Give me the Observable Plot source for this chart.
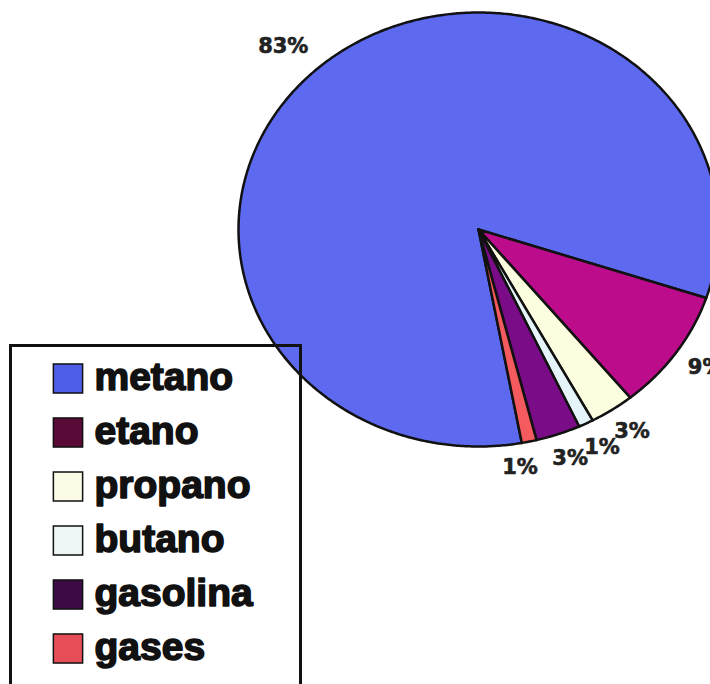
<!DOCTYPE html>
<html>
<head>
<meta charset="utf-8">
<script src="https://cdn.jsdelivr.net/npm/d3@7"></script>
<script src="https://cdn.jsdelivr.net/npm/@observablehq/plot@0.6"></script>
<style>
  html, body { margin: 0; padding: 0; background: white; overflow: hidden; }
  #wrap { position: relative; width: 710px; height: 684px; overflow: hidden; }
  #legend { position: absolute; left: 0; top: 330px; }
  #pie { position: absolute; left: 0; top: 0; }
</style>
</head>
<body>
<div id="wrap"><div id="pie"></div><div id="legend"></div></div>
<script>
// ---- data ----
const categories = ["metano", "etano", "propano", "butano", "gasolina", "gases"];
const values = [83, 9, 3, 1, 3, 1];
const labels = ["83%", "9%", "3%", "1%", "3%", "1%"];
const sliceColors = ["#5d6af0", "#bd0c8b", "#fdfde0", "#e4f4f8", "#7a0c88", "#f45a5e"];
const legendColors = ["#4f5ee6", "#5a0a36", "#fbfbe6", "#eef6f6", "#3c0a44", "#e84e58"];
const startAngleDeg = 169.6; // first slice start, clockwise from 12 o'clock

// ---- build slice geometry with d3.pie ----
const pieGen = d3.pie().sort(null)
  .startAngle(startAngleDeg * Math.PI / 180)
  .endAngle(startAngleDeg * Math.PI / 180 + 2 * Math.PI);
const arcs = pieGen(values);

const slicePts = [];
const labelRows = [];
arcs.forEach((a, i) => {
  const name = categories[i];
  const color = sliceColors[i];
  slicePts.push({name, color, x: 0, y: 0});
  const steps = Math.max(4, Math.ceil((a.endAngle - a.startAngle) / (Math.PI / 360)));
  for (let k = 0; k <= steps; k++) {
    const t = a.startAngle + (a.endAngle - a.startAngle) * k / steps;
    slicePts.push({name, color, x: Math.sin(t), y: Math.cos(t)});
  }
  const mid = (a.startAngle + a.endAngle) / 2;
  const sx = Math.sin(mid), cy = Math.cos(mid);
  // labels sit just outside the rim (crowded bottom label nudged inward, big left label further out)
  const fx = sx < -0.3 ? 1.24 : sx < 0.25 ? 0.82 : 1.15;
  labelRows.push({label: labels[i], x: sx * fx, y: cy * 1.12});
});

const pie = Plot.plot({
  width: 710,
  height: 684,
  margin: 0,
  x: {domain: [-1, 1], range: [238, 718], axis: null},
  y: {domain: [-1, 1], range: [446, 12], axis: null},
  color: {type: "identity"},
  marks: [
    Plot.line(slicePts, {x: "x", y: "y", z: "name", fill: "color", stroke: "#111", strokeWidth: 2.5, curve: "linear-closed", strokeLinejoin: "round"}),
    Plot.text(labelRows, {x: "x", y: "y", text: "label", fontSize: 21, fontWeight: "bold", fontFamily: "DejaVu Sans", fill: "#222", stroke: "#222", strokeWidth: 0.6})
  ]
});
document.getElementById("pie").appendChild(pie);

// ---- legend ----
const legendRows = categories.map((c, i) => ({name: c, color: legendColors[i]}));
const legend = Plot.plot({
  width: 310,
  height: 359,
  marginLeft: 10,
  marginRight: 10,
  marginTop: 15,
  marginBottom: 0,
  style: {background: "transparent"},
  y: {type: "point", domain: categories, range: [48, 322], padding: 0, axis: null},
  color: {type: "identity"},
  marks: [
    Plot.frame({stroke: "#111", strokeWidth: 3}),
    Plot.dot(legendRows, {y: "name", frameAnchor: "left", dx: 57.5, dy: -2, symbol: "square", r: 16.5, fill: "color", stroke: "#111", strokeWidth: 1.5}),
    Plot.text(legendRows, {y: "name", text: "name", frameAnchor: "left", dx: 84, dy: -2.5, textAnchor: "start", fontSize: 39, fontWeight: "bold", fontFamily: "Liberation Sans", fill: "#111", stroke: "#111", strokeWidth: 1.6, strokeLinejoin: "round"})
  ]
});
document.getElementById("legend").appendChild(legend);
</script>
</body>
</html>
